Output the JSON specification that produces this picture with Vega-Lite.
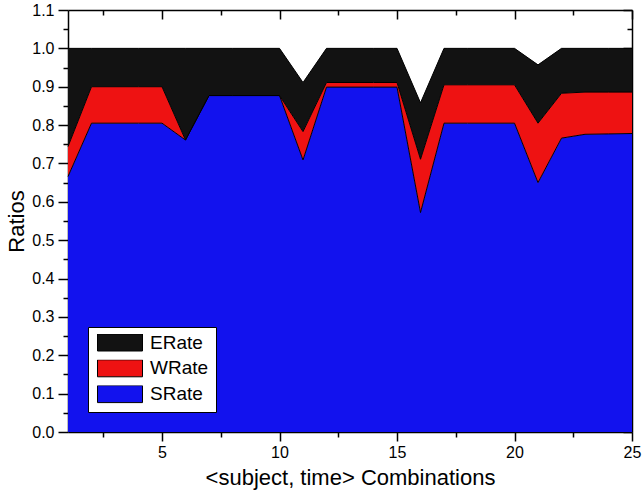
{
"$schema": "https://vega.github.io/schema/vega-lite/v6.json",
"width": 564, "height": 422,
"autosize": {"type": "none"},
"padding": {"left": 68, "top": 10, "right": 10, "bottom": 59},
"background": "white",
"config": {"view": {"stroke": null}, "font": "Liberation Sans", "axis": {"grid": false, "labelFont": "Liberation Sans", "titleFont": "Liberation Sans", "labelColor": "black", "titleColor": "black", "tickColor": "black", "domainColor": "black", "tickWidth": 1.5, "domainWidth": 1.5, "labelFlush": false, "labelOverlap": false, "labelBound": false}},
"data": {"values": [
{"x":1,"series":"SRate","value":0.666},{"x":1,"series":"WRate","value":0.078},{"x":1,"series":"ERate","value":0.256},
{"x":2,"series":"SRate","value":0.805},{"x":2,"series":"WRate","value":0.095},{"x":2,"series":"ERate","value":0.100},
{"x":3,"series":"SRate","value":0.805},{"x":3,"series":"WRate","value":0.095},{"x":3,"series":"ERate","value":0.100},
{"x":4,"series":"SRate","value":0.805},{"x":4,"series":"WRate","value":0.095},{"x":4,"series":"ERate","value":0.100},
{"x":5,"series":"SRate","value":0.805},{"x":5,"series":"WRate","value":0.095},{"x":5,"series":"ERate","value":0.100},
{"x":6,"series":"SRate","value":0.761},{"x":6,"series":"WRate","value":0.000},{"x":6,"series":"ERate","value":0.239},
{"x":7,"series":"SRate","value":0.877},{"x":7,"series":"WRate","value":0.000},{"x":7,"series":"ERate","value":0.123},
{"x":8,"series":"SRate","value":0.877},{"x":8,"series":"WRate","value":0.000},{"x":8,"series":"ERate","value":0.123},
{"x":9,"series":"SRate","value":0.877},{"x":9,"series":"WRate","value":0.000},{"x":9,"series":"ERate","value":0.123},
{"x":10,"series":"SRate","value":0.877},{"x":10,"series":"WRate","value":0.000},{"x":10,"series":"ERate","value":0.123},
{"x":11,"series":"SRate","value":0.709},{"x":11,"series":"WRate","value":0.074},{"x":11,"series":"ERate","value":0.128},
{"x":12,"series":"SRate","value":0.899},{"x":12,"series":"WRate","value":0.012},{"x":12,"series":"ERate","value":0.089},
{"x":13,"series":"SRate","value":0.899},{"x":13,"series":"WRate","value":0.012},{"x":13,"series":"ERate","value":0.089},
{"x":14,"series":"SRate","value":0.899},{"x":14,"series":"WRate","value":0.012},{"x":14,"series":"ERate","value":0.089},
{"x":15,"series":"SRate","value":0.899},{"x":15,"series":"WRate","value":0.012},{"x":15,"series":"ERate","value":0.089},
{"x":16,"series":"SRate","value":0.572},{"x":16,"series":"WRate","value":0.139},{"x":16,"series":"ERate","value":0.147},
{"x":17,"series":"SRate","value":0.805},{"x":17,"series":"WRate","value":0.100},{"x":17,"series":"ERate","value":0.095},
{"x":18,"series":"SRate","value":0.805},{"x":18,"series":"WRate","value":0.100},{"x":18,"series":"ERate","value":0.095},
{"x":19,"series":"SRate","value":0.805},{"x":19,"series":"WRate","value":0.100},{"x":19,"series":"ERate","value":0.095},
{"x":20,"series":"SRate","value":0.805},{"x":20,"series":"WRate","value":0.100},{"x":20,"series":"ERate","value":0.095},
{"x":21,"series":"SRate","value":0.650},{"x":21,"series":"WRate","value":0.155},{"x":21,"series":"ERate","value":0.152},
{"x":22,"series":"SRate","value":0.766},{"x":22,"series":"WRate","value":0.117},{"x":22,"series":"ERate","value":0.117},
{"x":23,"series":"SRate","value":0.776},{"x":23,"series":"WRate","value":0.110},{"x":23,"series":"ERate","value":0.114},
{"x":24,"series":"SRate","value":0.777},{"x":24,"series":"WRate","value":0.109},{"x":24,"series":"ERate","value":0.114},
{"x":25,"series":"SRate","value":0.778},{"x":25,"series":"WRate","value":0.108},{"x":25,"series":"ERate","value":0.114}
]},
"transform": [{"stack": "value", "groupby": ["x"], "as": ["y0", "y1"]}],
"resolve": {"axis": {"x": "independent", "y": "independent"}},
"layer": [
{
"mark": {"type": "area", "interpolate": "linear", "opacity": 1},
"encoding": {
"x": {"field": "x", "type": "quantitative", "scale": {"domain": [1, 25], "nice": false, "zero": false},
 "axis": {"orient": "bottom", "values": [5, 10, 15, 20, 25], "tickSize": 9, "labelFontSize": 16, "labelPadding": 3, "title": "<subject, time> Combinations", "titleFontSize": 22, "titleFontWeight": "normal", "titlePadding": 7}},
"y": {"field": "y1", "type": "quantitative", "scale": {"domain": [0, 1.1], "nice": false, "zero": false},
 "axis": {"orient": "left", "values": [0, 0.1, 0.2, 0.3, 0.4, 0.5, 0.6, 0.7, 0.8, 0.9, 1.0, 1.1], "format": ".1f", "tickSize": 10, "labelFontSize": 16, "labelPadding": 4, "title": "Ratios", "titleFontSize": 22, "titleFontWeight": "normal", "titlePadding": 3}},
"y2": {"field": "y0"},
"color": {"field": "series", "type": "nominal", "scale": {"domain": ["ERate", "WRate", "SRate"], "range": ["#121212", "#ee1212", "#1212ee"]},
 "legend": {"orient": "bottom-left", "offset": 20, "title": null, "padding": 7, "strokeColor": "black", "fillColor": "white", "symbolType": "M-1,-0.378H1V0.378H-1Z", "symbolSize": 2025, "symbolStrokeColor": "black", "symbolStrokeWidth": 1, "symbolOpacity": 1, "clipHeight": 17, "rowPadding": 5.8, "labelFontSize": 19, "labelFont": "Liberation Sans", "labelColor": "black", "labelOffset": 7, "symbolOffset": 2, "labelLimit": 200,
  "encode": {"symbols": {"update": {"stroke": {"value": "black"}, "strokeWidth": {"value": 1}}}}}}
}
},
{
"mark": {"type": "point", "opacity": 0},
"encoding": {
"x": {"field": "x", "type": "quantitative", "axis": {"orient": "bottom", "values": [2.5, 7.5, 12.5, 17.5, 22.5], "tickSize": 5, "labels": false, "domain": false, "title": null}},
"y": {"field": "y1", "type": "quantitative", "axis": {"orient": "left", "values": [0.05, 0.15, 0.25, 0.35, 0.45, 0.55, 0.65, 0.75, 0.85, 0.95, 1.05], "tickSize": 5, "labels": false, "domain": false, "title": null}}
}
},
{
"mark": {"type": "line", "color": "black", "strokeWidth": 1, "interpolate": "linear"},
"encoding": {
"x": {"field": "x", "type": "quantitative", "axis": {"orient": "top", "values": [5, 10, 15, 20, 25], "tickSize": -9, "labels": false, "domain": true, "title": null}},
"y": {"field": "y1", "type": "quantitative", "axis": {"orient": "right", "values": [0, 0.1, 0.2, 0.3, 0.4, 0.5, 0.6, 0.7, 0.8, 0.9, 1.0, 1.1], "tickSize": -9, "labels": false, "domain": true, "title": null}},
"detail": {"field": "series"}
}
},
{
"mark": {"type": "point", "opacity": 0},
"encoding": {
"x": {"field": "x", "type": "quantitative", "axis": {"orient": "top", "values": [2.5, 7.5, 12.5, 17.5, 22.5], "tickSize": -5, "labels": false, "domain": false, "title": null}},
"y": {"field": "y1", "type": "quantitative", "axis": {"orient": "right", "values": [0.05, 0.15, 0.25, 0.35, 0.45, 0.55, 0.65, 0.75, 0.85, 0.95, 1.05], "tickSize": -5, "labels": false, "domain": false, "title": null}}
}
}
]
}
